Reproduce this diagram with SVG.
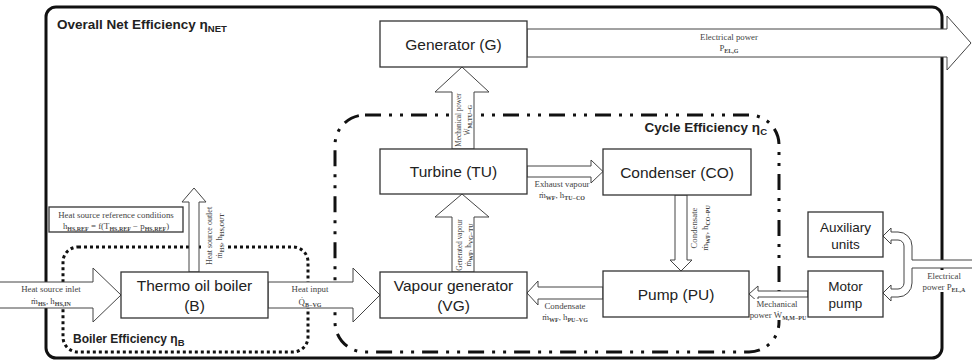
<svg xmlns="http://www.w3.org/2000/svg" width="972" height="362" viewBox="0 0 972 362">
<style>
.box{fill:#fff;stroke:#333;stroke-width:1.3}
.arr{fill:#fff;stroke:#444;stroke-width:1}
.lbl{font-family:"Liberation Sans",Arial,sans-serif;font-size:15.5px;fill:#222;text-anchor:middle}
.lbs{font-family:"Liberation Sans",Arial,sans-serif;font-size:13.5px;fill:#222;text-anchor:middle}
.sm{font-family:"Liberation Serif","Times New Roman",serif;font-size:8.8px;fill:#444;text-anchor:middle}
.sr{font-family:"Liberation Serif","Times New Roman",serif;font-size:7.2px;fill:#444;text-anchor:middle}
.sb{font-size:6px;font-weight:bold}
.ttl{font-family:"Liberation Sans",Arial,sans-serif;font-weight:bold;font-size:13.5px;fill:#222}
.tsb{font-size:9.5px}
.bg{fill:#fff}
.outer{fill:none;stroke:#111;stroke-width:3}
.cyc{fill:none;stroke:#111;stroke-width:3;stroke-dasharray:16 8 3 8 3 8}
.dot{fill:none;stroke:#111;stroke-width:3;stroke-dasharray:3 3}
</style>
<g id="regions">
<rect class="outer" x="46" y="7" width="896" height="351" rx="10"/>
<rect class="dot" x="63" y="247" width="245" height="105" rx="15"/>
<rect class="cyc" x="335" y="115" width="444" height="237" rx="30"/>
<text class="ttl" x="57" y="29">Overall Net Efficiency η<tspan class="tsb" dy="3">NET</tspan></text>
<text class="ttl" x="767" y="132" text-anchor="end">Cycle Efficiency η<tspan class="tsb" dy="3">C</tspan></text>
<text class="ttl" x="73" y="343" style="font-size:12px">Boiler Efficiency η<tspan class="tsb" dy="3">B</tspan></text>
</g>
<g id="connectors">
<path class="arr" d="M-2 282 L93 282 L93 268 L121 295 L93 322 L93 308 L-2 308 Z"/>
<text class="sm" x="51" y="292">Heat source inlet</text>
<text class="sm" x="51" y="304">ṁ<tspan class="sb" dy="1.5">HS</tspan><tspan dy="-1.5">, h</tspan><tspan class="sb" dy="1.5">HS,IN</tspan></text>
<path class="arr" d="M268 282 L353 282 L353 268 L380 295 L353 322 L353 308 L268 308 Z"/>
<text class="sm" x="310" y="292">Heat input</text>
<text class="sm" x="310" y="305">Q̇<tspan class="sb" dy="1.5">B−VG</tspan></text>
<path class="arr" d="M189 272 L189 202 L182 202 L194 188 L206 202 L199 202 L199 272 Z"/>
<rect class="bg" x="203" y="204" width="24" height="64"/>
<text class="sr" style="font-size:8px" transform="translate(212 236) rotate(-90)"><tspan x="0" y="0">Heat source outlet</tspan><tspan x="0" y="10">ṁ<tspan class="sb" dy="1.5">HS</tspan><tspan dy="-1.5">, h</tspan><tspan class="sb" dy="1.5">HS,OUT</tspan></tspan></text>
<path class="arr" d="M452 272 L452 217 L435 217 L462 194 L489 217 L474 217 L474 272 Z"/>
<text class="sr" transform="translate(463 245) rotate(-90)"><tspan x="0" y="-1">Generated vapour</tspan><tspan x="0" y="8">ṁ<tspan class="sb" dy="1.5">WF</tspan><tspan dy="-1.5">, h</tspan><tspan class="sb" dy="1.5">VG−TU</tspan></tspan></text>
<path class="arr" d="M452 149 L452 92 L435 92 L462 67 L489 92 L474 92 L474 149 Z"/>
<text class="sr" transform="translate(462 120) rotate(-90)"><tspan x="0" y="-1">Mechanical power</tspan><tspan x="0" y="8">Ẇ<tspan class="sb" dy="1.5">M,TU−G</tspan></tspan></text>
<path class="arr" d="M527 166 L591 166 L591 160 L603 171.5 L591 183 L591 177 L527 177 Z"/>
<rect class="bg" x="532" y="179" width="58" height="21"/>
<text class="sm" x="562" y="187">Exhaust vapour</text>
<text class="sm" x="562" y="198">ṁ<tspan class="sb" dy="1.5">WF</tspan><tspan dy="-1.5">, h</tspan><tspan class="sb" dy="1.5">TU−CO</tspan></text>
<path class="arr" d="M675 195 L675 260 L670 260 L681 271 L692 260 L687 260 L687 195 Z"/>
<text class="sm" transform="translate(697 228) rotate(-90)"><tspan x="0" y="0">Condensate</tspan><tspan x="0" y="11">ṁ<tspan class="sb" dy="1.5">WF</tspan><tspan dy="-1.5">, h</tspan><tspan class="sb" dy="1.5">CO−PU</tspan></tspan></text>
<path class="arr" d="M603 287 L538 287 L538 281 L527 293 L538 305 L538 299 L603 299 Z"/>
<text class="sm" x="565" y="309">Condensate</text>
<text class="sm" x="565" y="320">ṁ<tspan class="sb" dy="1.5">WF</tspan><tspan dy="-1.5">, h</tspan><tspan class="sb" dy="1.5">PU−VG</tspan></text>
<path class="arr" d="M808 291 L758 291 L758 286 L749 294 L758 302 L758 297 L808 297 Z"/>
<rect class="bg" x="750" y="299" width="57" height="21"/>
<text class="sm" x="777" y="307">Mechanical</text>
<text class="sm" x="778" y="318">power Ẇ<tspan class="sb" dy="1.5">M,M−PU</tspan></text>
<path class="arr" d="M527 29 L947 29 L947 16 L971 43 L947 70 L947 57 L527 57 Z"/>
<text class="sm" x="729" y="40">Electrical power</text>
<text class="sm" x="729" y="51">P<tspan class="sb" dy="1.5">EL,G</tspan></text>
<path class="arr" d="M883 236 L891 228 L891 232 L898 232 A14 14 0 0 1 912 246 L912 260 L974 260 L974 268 L912 268 L912 283 A14 14 0 0 1 898 297 L891 297 L891 301 L883 293 L891 285 L891 289 L898 289 A6 6 0 0 0 904 283 L904 246 A6 6 0 0 0 898 240 L891 240 L891 244 Z"/>
<rect class="bg" x="924" y="270" width="42" height="22"/>
<text class="sm" x="944" y="279">Electrical</text>
<text class="sm" x="944" y="290">power P<tspan class="sb" dy="1.5">EL,A</tspan></text>
</g>
<g id="generator"><rect class="box" x="380" y="21" width="147" height="46"/><text class="lbl" x="453.5" y="49.5">Generator (G)</text></g>
<g id="turbine"><rect class="box" x="380" y="149" width="147" height="45"/><text class="lbl" x="453.5" y="177">Turbine (TU)</text></g>
<g id="condenser"><rect class="box" x="603" y="149" width="148" height="46"/><text class="lbl" x="677" y="177.5">Condenser (CO)</text></g>
<g id="vapour-generator"><rect class="box" x="380" y="272" width="147" height="46"/><text class="lbl" x="453.5" y="291">Vapour generator</text><text class="lbl" x="453.5" y="311">(VG)</text></g>
<g id="pump"><rect class="box" x="603" y="271" width="146" height="46"/><text class="lbl" x="676" y="299.5">Pump (PU)</text></g>
<g id="boiler"><rect class="box" x="121" y="272" width="147" height="46"/><text class="lbl" x="194.5" y="291">Thermo oil boiler</text><text class="lbl" x="194.5" y="311">(B)</text></g>
<g id="auxiliary-units"><rect class="box" x="808" y="212" width="75" height="45"/><text class="lbs" x="845.5" y="232">Auxiliary</text><text class="lbs" x="845.5" y="249">units</text></g>
<g id="motor-pump"><rect class="box" x="808" y="271" width="75" height="46"/><text class="lbs" x="845.5" y="291">Motor</text><text class="lbs" x="845.5" y="308">pump</text></g>
<g id="reference-conditions"><rect class="box" x="49" y="207" width="134" height="25"/><text class="sm" x="116" y="218">Heat source reference conditions</text><text class="sm" x="116" y="229">h<tspan class="sb" dy="1.5">HS,REF</tspan><tspan dy="-1.5"> = f(T</tspan><tspan class="sb" dy="1.5">HS,REF</tspan><tspan dy="-1.5"> − p</tspan><tspan class="sb" dy="1.5">HS,REF</tspan><tspan dy="-1.5">)</tspan></text></g>
</svg>
